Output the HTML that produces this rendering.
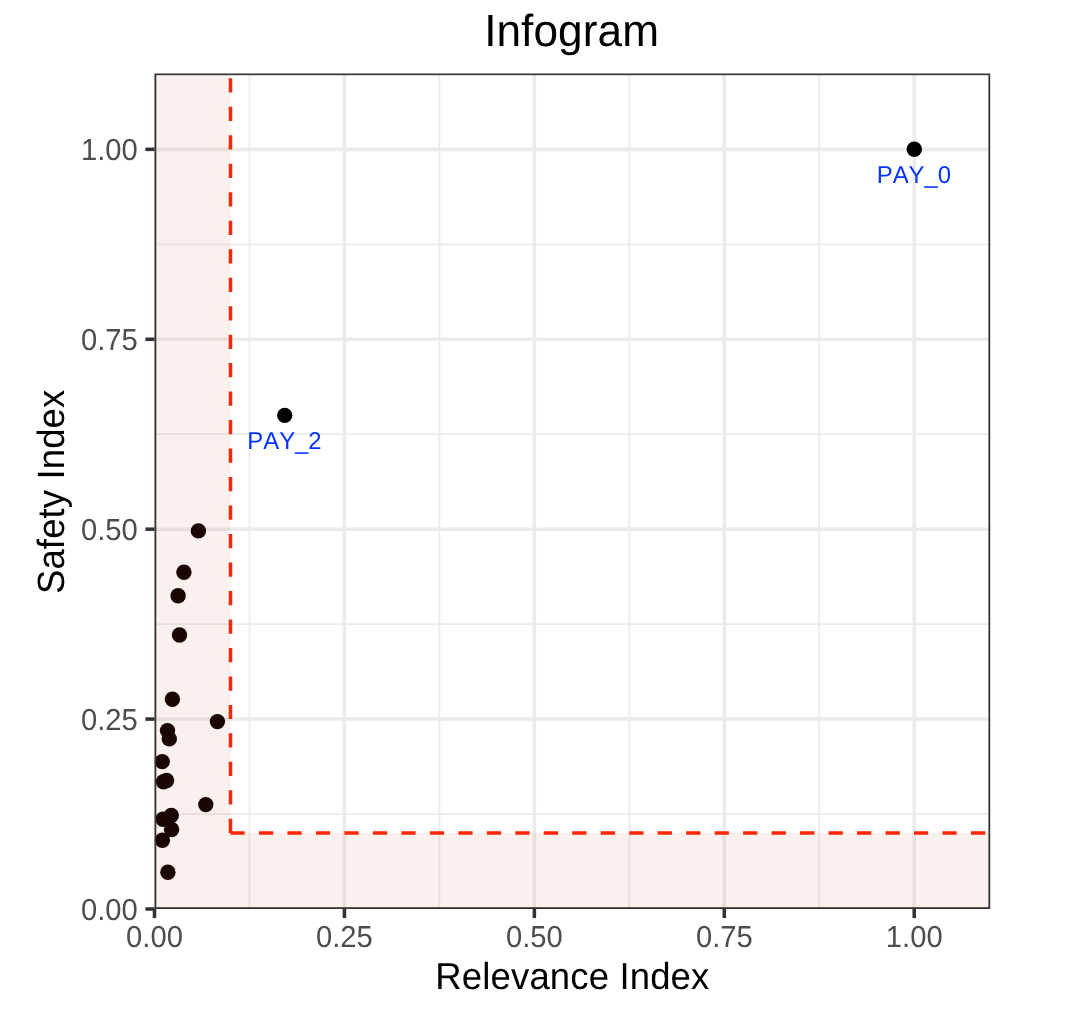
<!DOCTYPE html>
<html lang="en"><head><meta charset="utf-8"><title>Infogram</title>
<style>html,body{margin:0;padding:0;background:#fff;overflow:hidden}svg{display:block}text{font-family:"Liberation Sans",sans-serif;font-kerning:none;text-rendering:geometricPrecision}</style></head><body>
<svg width="1074" height="1012" viewBox="0 0 1074 1012">
<rect width="1074" height="1012" fill="#fff"/>
<defs><clipPath id="p"><rect x="154.5" y="73.4" width="835.70" height="835.60"/></clipPath></defs>
<g clip-path="url(#p)">
<line x1="154.5" x2="990.2" y1="814.05" y2="814.05" stroke="#EBEBEB" stroke-width="1.78"/>
<line y1="73.4" y2="909.0" x1="249.47" x2="249.47" stroke="#EBEBEB" stroke-width="1.78"/>
<line x1="154.5" x2="990.2" y1="624.14" y2="624.14" stroke="#EBEBEB" stroke-width="1.78"/>
<line y1="73.4" y2="909.0" x1="439.40" x2="439.40" stroke="#EBEBEB" stroke-width="1.78"/>
<line x1="154.5" x2="990.2" y1="434.23" y2="434.23" stroke="#EBEBEB" stroke-width="1.78"/>
<line y1="73.4" y2="909.0" x1="629.33" x2="629.33" stroke="#EBEBEB" stroke-width="1.78"/>
<line x1="154.5" x2="990.2" y1="244.32" y2="244.32" stroke="#EBEBEB" stroke-width="1.78"/>
<line y1="73.4" y2="909.0" x1="819.26" x2="819.26" stroke="#EBEBEB" stroke-width="1.78"/>
<line x1="154.5" x2="990.2" y1="909.00" y2="909.00" stroke="#EBEBEB" stroke-width="3.56"/>
<line y1="73.4" y2="909.0" x1="154.50" x2="154.50" stroke="#EBEBEB" stroke-width="3.56"/>
<line x1="154.5" x2="990.2" y1="719.09" y2="719.09" stroke="#EBEBEB" stroke-width="3.56"/>
<line y1="73.4" y2="909.0" x1="344.43" x2="344.43" stroke="#EBEBEB" stroke-width="3.56"/>
<line x1="154.5" x2="990.2" y1="529.18" y2="529.18" stroke="#EBEBEB" stroke-width="3.56"/>
<line y1="73.4" y2="909.0" x1="534.36" x2="534.36" stroke="#EBEBEB" stroke-width="3.56"/>
<line x1="154.5" x2="990.2" y1="339.27" y2="339.27" stroke="#EBEBEB" stroke-width="3.56"/>
<line y1="73.4" y2="909.0" x1="724.30" x2="724.30" stroke="#EBEBEB" stroke-width="3.56"/>
<line x1="154.5" x2="990.2" y1="149.36" y2="149.36" stroke="#EBEBEB" stroke-width="3.56"/>
<line y1="73.4" y2="909.0" x1="914.23" x2="914.23" stroke="#EBEBEB" stroke-width="3.56"/>
<path d="M230.47 833.04V68.4H149.5V914.0H995.2V833.04Z" fill="#CD694B" fill-opacity="0.1"/>
<circle cx="914.3" cy="149.3" r="7.7" fill="#000"/>
<circle cx="284.7" cy="415.4" r="7.7" fill="#000"/>
<circle cx="198.4" cy="530.9" r="7.7" fill="#1A0704"/>
<circle cx="183.9" cy="572.3" r="7.7" fill="#1A0704"/>
<circle cx="178.1" cy="595.7" r="7.7" fill="#1A0704"/>
<circle cx="179.5" cy="635.0" r="7.7" fill="#1A0704"/>
<circle cx="172.4" cy="699.3" r="7.7" fill="#1A0704"/>
<circle cx="217.4" cy="721.6" r="7.7" fill="#1A0704"/>
<circle cx="167.5" cy="730.6" r="7.7" fill="#1A0704"/>
<circle cx="169.3" cy="738.9" r="7.7" fill="#1A0704"/>
<circle cx="162.2" cy="761.6" r="7.7" fill="#1A0704"/>
<circle cx="166.6" cy="780.5" r="7.7" fill="#1A0704"/>
<circle cx="163.5" cy="781.7" r="7.7" fill="#1A0704"/>
<circle cx="205.8" cy="804.6" r="7.7" fill="#1A0704"/>
<circle cx="171.3" cy="815.5" r="7.7" fill="#1A0704"/>
<circle cx="163.0" cy="819.3" r="7.7" fill="#1A0704"/>
<circle cx="171.6" cy="829.5" r="7.7" fill="#1A0704"/>
<circle cx="162.4" cy="840.3" r="7.7" fill="#1A0704"/>
<circle cx="167.9" cy="872.3" r="7.7" fill="#1A0704"/>
<path d="M230.47 833.04V68.4M230.47 833.04H995.2" fill="none" stroke="#FF2600" stroke-width="3.56" stroke-dasharray="14.24 14.24"/>
<text transform="translate(913.9 183.1) scale(1 1.02)" font-size="23.9" fill="#0433FF" text-anchor="middle">PAY_0</text>
<text transform="translate(284.45 449.3) scale(1 1.02)" font-size="23.9" fill="#0433FF" text-anchor="middle">PAY_2</text>
<rect x="154.5" y="73.4" width="835.70" height="835.60" fill="none" stroke="#333333" stroke-width="3.56"/>
</g>
<line x1="145.40" x2="154.5" y1="909.00" y2="909.00" stroke="#333333" stroke-width="3.56"/>
<line y1="909.0" y2="918.10" x1="154.50" x2="154.50" stroke="#333333" stroke-width="3.56"/>
<text transform="translate(137.8 919.70) scale(1 1.04)" font-size="29.2" fill="#4D4D4D" text-anchor="end">0.00</text>
<text transform="translate(154.50 947.4) scale(1 1.04)" font-size="29.2" fill="#4D4D4D" text-anchor="middle">0.00</text>
<line x1="145.40" x2="154.5" y1="719.09" y2="719.09" stroke="#333333" stroke-width="3.56"/>
<line y1="909.0" y2="918.10" x1="344.43" x2="344.43" stroke="#333333" stroke-width="3.56"/>
<text transform="translate(137.8 729.79) scale(1 1.04)" font-size="29.2" fill="#4D4D4D" text-anchor="end">0.25</text>
<text transform="translate(344.43 947.4) scale(1 1.04)" font-size="29.2" fill="#4D4D4D" text-anchor="middle">0.25</text>
<line x1="145.40" x2="154.5" y1="529.18" y2="529.18" stroke="#333333" stroke-width="3.56"/>
<line y1="909.0" y2="918.10" x1="534.36" x2="534.36" stroke="#333333" stroke-width="3.56"/>
<text transform="translate(137.8 539.88) scale(1 1.04)" font-size="29.2" fill="#4D4D4D" text-anchor="end">0.50</text>
<text transform="translate(534.36 947.4) scale(1 1.04)" font-size="29.2" fill="#4D4D4D" text-anchor="middle">0.50</text>
<line x1="145.40" x2="154.5" y1="339.27" y2="339.27" stroke="#333333" stroke-width="3.56"/>
<line y1="909.0" y2="918.10" x1="724.30" x2="724.30" stroke="#333333" stroke-width="3.56"/>
<text transform="translate(137.8 349.97) scale(1 1.04)" font-size="29.2" fill="#4D4D4D" text-anchor="end">0.75</text>
<text transform="translate(724.30 947.4) scale(1 1.04)" font-size="29.2" fill="#4D4D4D" text-anchor="middle">0.75</text>
<line x1="145.40" x2="154.5" y1="149.36" y2="149.36" stroke="#333333" stroke-width="3.56"/>
<line y1="909.0" y2="918.10" x1="914.23" x2="914.23" stroke="#333333" stroke-width="3.56"/>
<text transform="translate(137.8 160.06) scale(1 1.04)" font-size="29.2" fill="#4D4D4D" text-anchor="end">1.00</text>
<text transform="translate(914.23 947.4) scale(1 1.04)" font-size="29.2" fill="#4D4D4D" text-anchor="middle">1.00</text>
<text transform="translate(571.6 46.4) scale(1 1.02)" font-size="44.2" letter-spacing="0.07" fill="#000" text-anchor="middle">Infogram</text>
<text transform="translate(572.4 988.7) scale(1 1.03)" font-size="36.5" letter-spacing="0.15" fill="#000" text-anchor="middle">Relevance Index</text>
<text transform="translate(63.9 491.8) rotate(-90) scale(1 1.04)" font-size="36.5" letter-spacing="0.13" fill="#000" text-anchor="middle">Safety Index</text>
</svg></body></html>
